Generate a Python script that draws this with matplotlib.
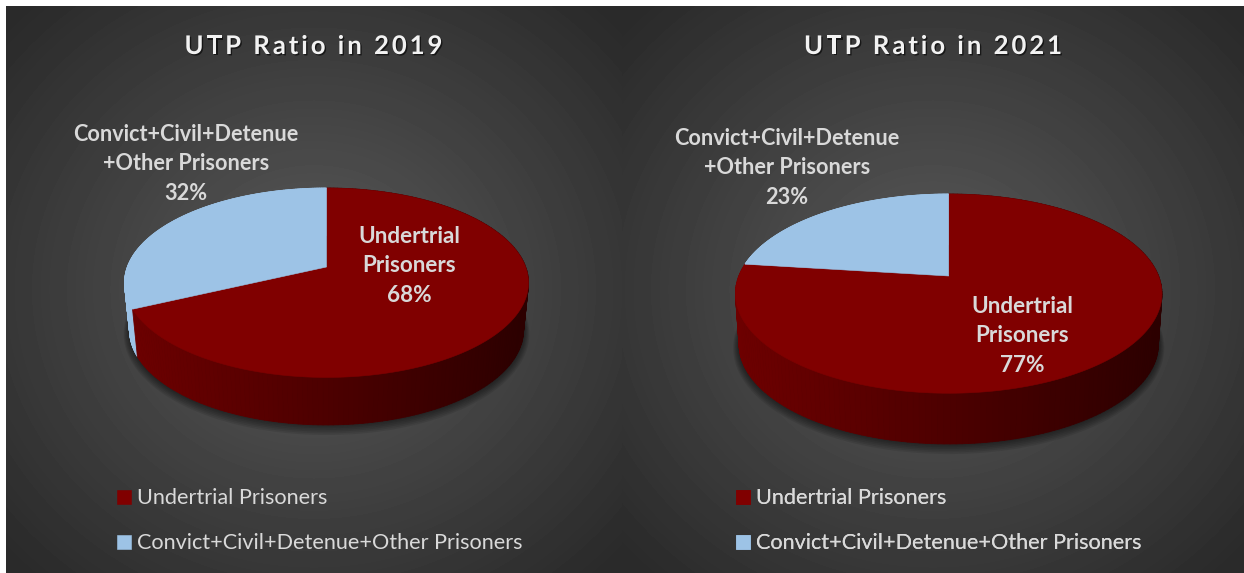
import numpy as np
import matplotlib
matplotlib.use("Agg")
import matplotlib.pyplot as plt
import matplotlib.patheffects as pe
from matplotlib.collections import PolyCollection
from matplotlib.patches import Polygon
from matplotlib.text import Text
from matplotlib.transforms import IdentityTransform, Bbox

# ---------- data ----------
categories = ["Undertrial Prisoners", "Convict+Civil+Detenue+Other Prisoners"]
data_labels = ["Undertrial\nPrisoners", "Convict+Civil+Detenue\n+Other Prisoners"]
values_2019 = [68, 32]
values_2021 = [77, 23]
titles = ["UTP Ratio in 2019", "UTP Ratio in 2021"]
# ---------- style ----------
colors = ["#800000", "#9DC3E6"]
text_col = "#D9D9D9"
plt.rcParams["font.family"] = ["Lato", "DejaVu Sans"]

W, H = 1244, 573
fig = plt.figure(figsize=(W / 100, H / 100), dpi=100, facecolor="white")
ax = fig.add_axes([0, 0, 1, 1])
ax.axis("off")

# background: two radial gradients side by side
X0, X1, Y0, Y1 = 6, 1244, 6, 573
xx, yy = np.meshgrid(np.arange(X0, X1) + .5, np.arange(Y0, Y1) + .5)
seam = 622
cx_bg = np.where(xx < seam, (X0 + seam) / 2, (seam + X1) / 2)
d = np.hypot((xx - cx_bg) / 420, (yy - (Y0 + Y1) / 2) / 390).clip(0, 1)
bg = (0x2A + (0x5A - 0x2A) * (1 - d)) / 255
ax.imshow(bg, cmap="gray", vmin=0, vmax=1, extent=(X0, X1, Y1, Y0),
          aspect="auto", interpolation="bilinear", zorder=0)
ax.set_xlim(0, W)
ax.set_ylim(H, 0)


class SpacedText(Text):
    """One text whose letters are tracked out to a given total width."""
    target = 258

    def _offsets(self, renderer):
        fp = self.get_fontproperties()
        m = lambda s: renderer.get_text_width_height_descent(s, fp, False)[0]
        s = self.get_text()
        bar = m("|")
        off = np.array([m(s[:i] + "|") - bar for i in range(len(s) + 1)])
        extra = (self.target - off[-1]) / (len(s) - 1)
        return off + extra * np.arange(len(s) + 1) , extra

    def get_window_extent(self, renderer=None, dpi=None):
        renderer = renderer or self.get_figure().canvas.get_renderer()
        x, y = self.get_transform().transform(self.get_position())
        return Bbox.from_bounds(x - self.target / 2, y, self.target, 18)

    def draw(self, renderer):
        off, _ = self._offsets(renderer)
        x, y = self.get_transform().transform(self.get_position())
        x0 = x - self.target / 2
        for ch, o in zip(self.get_text(), off):
            t = Text(x0 + o, y, ch, transform=IdentityTransform(), ha="left", va="baseline",
                     fontproperties=self.get_fontproperties(), color=self.get_color(),
                     path_effects=self.get_path_effects())
            t.set_figure(self.get_figure())
            t.draw(renderer)


def pie3d(values, title, tx, cx, ax_y, A, B, k, depth, sx, lab_main, lab_other, leg_x):
    def proj(phi):
        X, Y = np.sin(phi), np.cos(phi)
        w = 1 + k * Y
        return cx + A * X / w, ax_y - B * Y / w

    ey = ax_y + B * k / (1 - k * k)  # centre of the projected ellipse

    def lower(px, py):
        return cx + sx * (px - cx), py + depth

    fr = np.cumsum([0] + list(values)) / sum(values) * 2 * np.pi
    rx = A / np.sqrt(1 - k * k)

    # soft shadow under the drum
    t = np.linspace(0, 2 * np.pi, 240)
    bx, by = lower(*proj(t))
    for g in np.arange(6, 0, -1):
        sh = np.c_[cx + (bx - cx) * (1 + g / rx), (ey + depth) + (by - ey - depth) * (1 + g / (B * .95)) + .6 * g]
        ax.add_patch(Polygon(sh, closed=True, fc="black", ec="none", alpha=.09, zorder=2))

    # side wall
    quads, cols, keys = [], [], []
    for i in range(len(values)):
        ph = np.linspace(fr[i], fr[i + 1], 200)
        for a, b in zip(ph[:-1], ph[1:]):
            xa, ya = proj(a); xb, yb = proj(b)
            xc, yc = lower(xb, yb); xd, yd = lower(xa, ya)
            quads.append([(xa, ya), (xb, yb), (xc, yc), (xd, yd)])
            f = np.clip((xa - (cx - rx)) / (2 * rx), 0, 1)
            if i == 0:
                cols.append((((0x6E - (0x6E - 0x2C) * f)) / 255, 0, 0))
            else:
                cols.append(matplotlib.colors.to_rgb(colors[1]))
            keys.append(ya)
    order = np.argsort(keys)
    quads = [quads[j] for j in order]
    cols = [cols[j] for j in order]
    ax.add_collection(PolyCollection(quads, facecolors=cols, edgecolors=cols, linewidths=.6, zorder=3))

    # top face
    handles = []
    for i in range(len(values)):
        ph = np.linspace(fr[i], fr[i + 1], 400)
        px, py = proj(ph)
        xy = np.r_[[[cx, ax_y]], np.c_[px, py]]
        p = Polygon(xy, closed=True, fc=colors[i], ec=colors[i], lw=.4, zorder=4)
        ax.add_patch(p)
        handles.append(p)

    # data labels
    ax.text(lab_main[0], lab_main[1], f"{data_labels[0]}\n{values[0]}%", ha="center", va="center",
            ma="center", color=text_col, fontsize=16.2, fontweight="bold", linespacing=1.5, zorder=6)
    ax.text(lab_other[0], lab_other[1], f"{data_labels[1]}\n{values[1]}%", ha="center", va="center",
            ma="center", color=text_col, fontsize=15.6, fontweight="bold", linespacing=1.48, zorder=6)

    # title
    st = SpacedText(tx, 54, title, color="#F2F2F2", fontsize=18.5, fontweight="bold", zorder=6,
                    transform=ax.transData,
                    path_effects=[pe.withSimplePatchShadow(offset=(1, -1), shadow_rgbFace="black", alpha=.6)])
    ax.add_artist(st)

    # legend
    fs = 15.6
    px_fs = fs * 100 / 72
    leg = ax.legend(handles, categories, loc="upper left",
                    bbox_to_anchor=(leg_x / W, 1 - 488.5 / H), bbox_transform=fig.transFigure,
                    frameon=False, fontsize=fs, labelcolor=text_col,
                    handlelength=14 / px_fs, handleheight=14 / px_fs, handletextpad=6 / px_fs,
                    labelspacing=(46.5 - px_fs * 1.0) / px_fs, borderpad=0, borderaxespad=0)
    leg.set_zorder(6)
    ax.add_artist(leg)


pie3d(values_2019, titles[0], 313.5, 326.5, 267, 199.2, 92.1, .166, 47.5, .975,
      (409.5, 266), (186, 164), 117)
pie3d(values_2021, titles[1], 933, 948.7, 276, 209.9, 96.5, .177, 50.7, .983,
      (1022, 336), (787, 168), 736)

fig.savefig("out.png", dpi=100, facecolor="white")
